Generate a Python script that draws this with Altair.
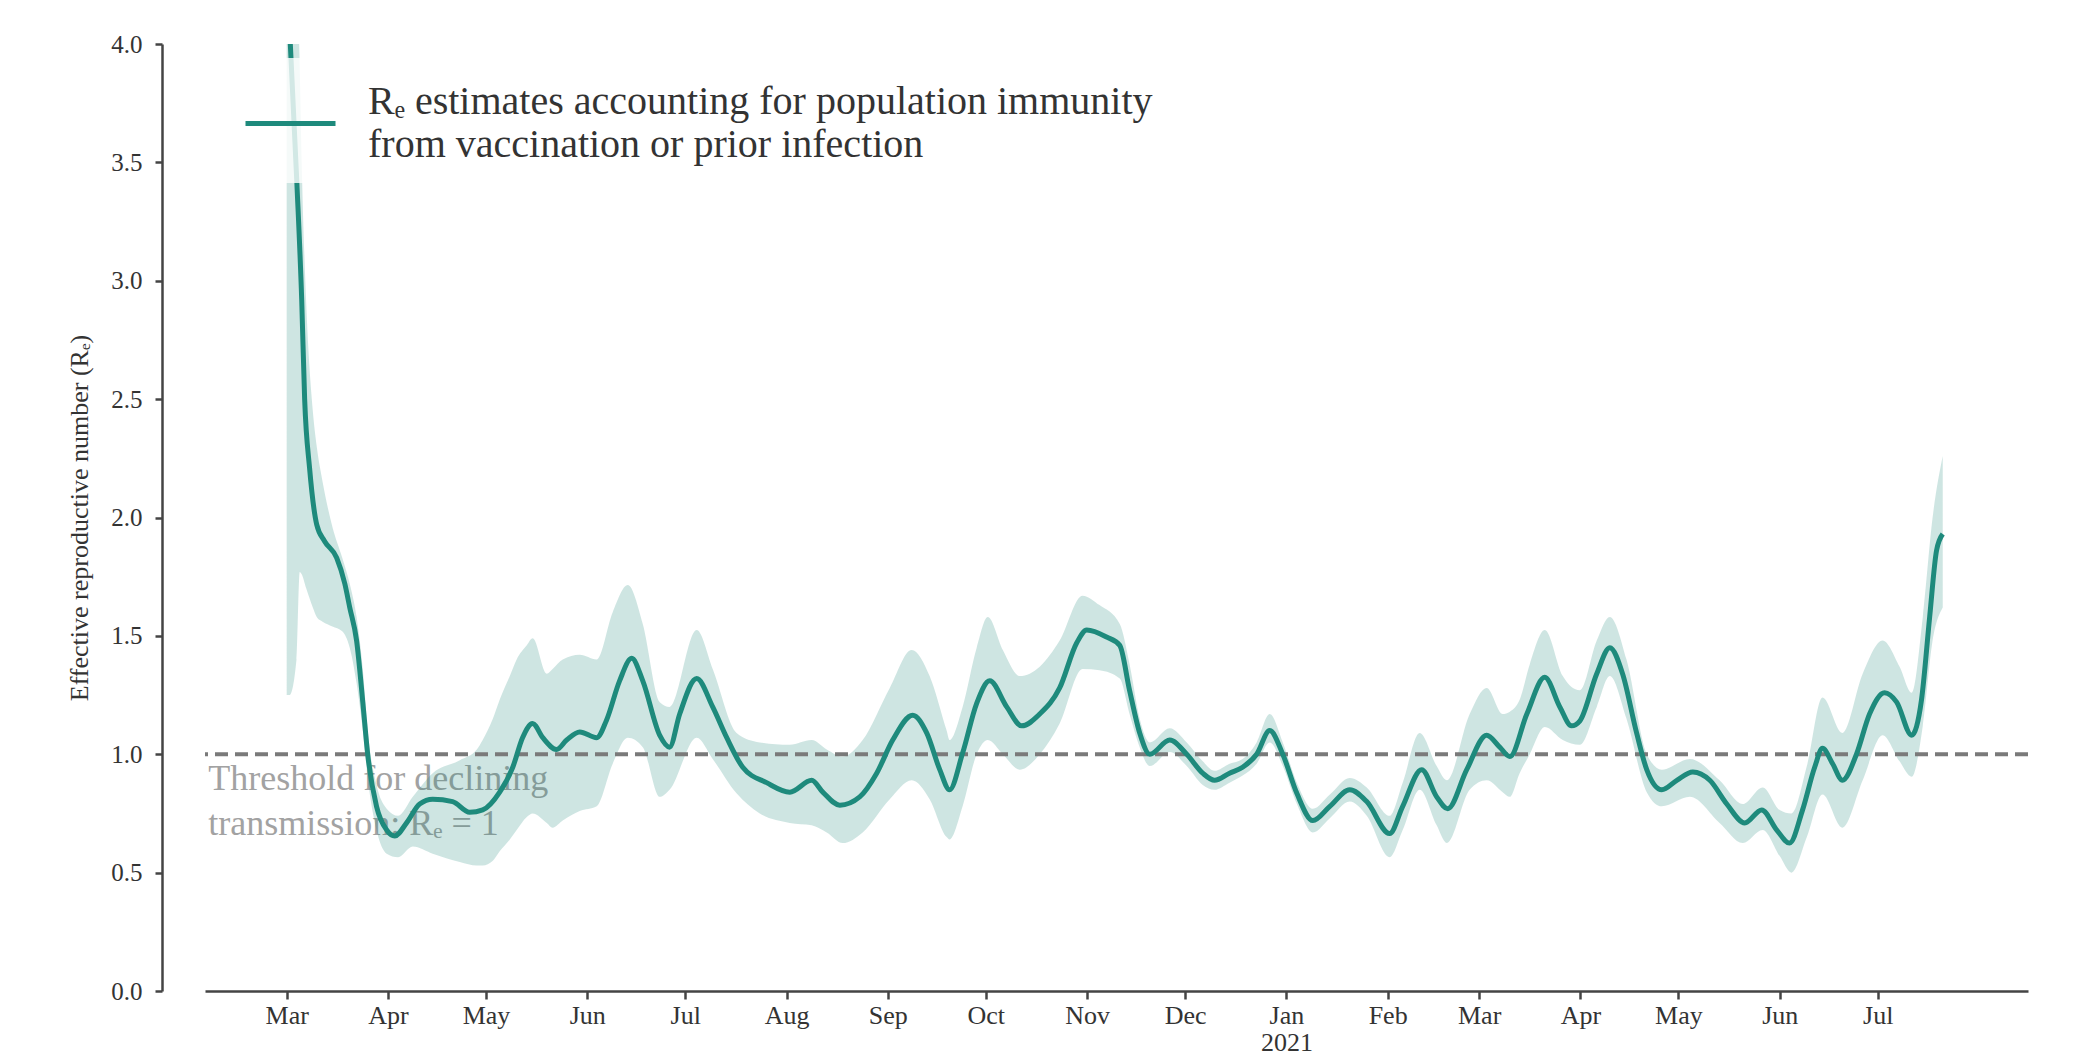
import altair as alt
import pandas as pd

START = "2020-03-01"
TEAL = "#1e8a7c"
FONT = "Liberation Serif"
LEGEND_LABEL = "Rₑ estimates accounting for population immunity|from vaccination or prior infection"
THRESHOLD_TEXT = "Threshold for declining\ntransmission: Rₑ = 1"

# central estimate (days after 2020-03-01, Re)
line_day = [0.6, 3.1, 4.6, 5.5, 7.0, 9.2, 11.6, 15.3, 17.8, 19.3,
            21.4, 23.3, 24.8, 27.5, 30.6, 33.1, 36.7, 40.7, 44.7, 50.8,
            56.0, 60.0, 65.2, 69.2, 72.2, 75.3, 78.4, 82.6, 85.7, 89.7,
            94.9, 97.9, 101.9, 105.6, 109.0, 114.2, 117.2, 120.3, 125.5, 130.4,
            134.7, 139.6, 146.9, 154.0, 160.7, 164.1, 169.3, 175.4, 180.6, 185.5,
            191.6, 195.9, 199.9, 202.9, 206.9, 211.2, 215.2, 220.4, 225.0, 230.5,
            236.6, 241.8, 244.9, 251.0, 255.0, 258.0, 261.1, 264.2, 270.3, 275.5,
            280.4, 284.0, 288.6, 292.6, 296.9, 300.9, 304.9, 309.2, 314.1, 319.3,
            325.4, 330.6, 337.6, 341.6, 347.4, 352.0, 355.4, 361.2, 367.3, 371.3,
            374.4, 379.6, 385.1, 389.7, 393.3, 395.8, 401.0, 405.0, 408.9, 413.2,
            416.3, 420.9, 425.5, 430.4, 435.6, 440.8, 446.3, 451.5, 456.1, 460.0,
            464.0, 467.7, 470.1, 473.2, 476.2, 480.5, 484.5, 489.1, 492.8, 497.4,
            500.4, 502.9, 505.0, 506.9]
line_r = [4.15, 3.42, 2.92, 2.50, 2.21, 1.97, 1.90, 1.83, 1.72, 1.62,
          1.48, 1.22, 1.0, 0.78, 0.68, 0.655, 0.71, 0.79, 0.81, 0.80,
          0.755, 0.765, 0.84, 0.945, 1.07, 1.13, 1.07, 1.02, 1.06, 1.094,
          1.07, 1.144, 1.31, 1.405, 1.31, 1.08, 1.03, 1.17, 1.32, 1.20,
          1.07, 0.945, 0.88, 0.84, 0.89, 0.84, 0.785, 0.82, 0.92, 1.06,
          1.165, 1.09, 0.935, 0.85, 1.005, 1.215, 1.31, 1.20, 1.12, 1.17,
          1.28, 1.47, 1.525, 1.495, 1.46, 1.27, 1.09, 1.0, 1.06, 1.0,
          0.92, 0.89, 0.92, 0.945, 1.0, 1.10, 1.0, 0.835, 0.72, 0.78,
          0.85, 0.80, 0.665, 0.78, 0.935, 0.82, 0.77, 0.935, 1.08, 1.03,
          0.99, 1.17, 1.325, 1.20, 1.12, 1.14, 1.34, 1.45, 1.34, 1.09,
          0.935, 0.85, 0.89, 0.925, 0.89, 0.79, 0.71, 0.765, 0.68, 0.625,
          0.765, 0.945, 1.025, 0.96, 0.89, 1.0, 1.17, 1.26, 1.22, 1.08,
          1.23, 1.58, 1.86, 1.93]

# credible interval (days after 2020-03-01, lower, upper)
band_day = [0.0, 0.9, 3.0, 4.0, 4.6, 6.0, 8.0, 9.2, 11.0, 14.0,
            17.0, 19.3, 21.4, 23.3, 24.8, 27.5, 30.6, 34.1, 38.6, 44.7,
            53.0, 58.2, 60.0, 63.1, 65.2, 68.3, 70.4, 73.5, 75.3, 79.6,
            81.4, 84.5, 89.7, 94.9, 99.8, 104.4, 109.0, 114.2, 117.2, 125.5,
            130.4, 137.7, 144.8, 154.0, 160.7, 165.3, 170.2, 176.3, 184.6, 191.3,
            196.8, 202.0, 202.9, 206.9, 211.2, 214.6, 219.2, 224.4, 230.5, 236.6,
            243.6, 248.8, 255.0, 258.0, 261.1, 264.2, 270.3, 275.5, 280.4, 284.0,
            288.6, 292.6, 296.9, 300.9, 304.9, 309.2, 314.1, 319.3, 325.4, 330.6,
            337.6, 341.6, 346.8, 352.0, 355.1, 362.1, 367.3, 372.2, 374.4, 377.4,
            380.5, 385.1, 390.6, 395.8, 401.0, 405.0, 410.1, 416.3, 420.9, 429.5,
            438.6, 445.7, 451.8, 457.0, 460.6, 465.3, 470.1, 476.2, 482.4, 488.5,
            493.7, 497.4, 500.8, 503.8, 506.9]
band_lo = [1.25, 1.25, 1.40, 1.77, 1.76, 1.70, 1.62, 1.58, 1.56, 1.54,
           1.52, 1.45, 1.30, 1.10, 0.90, 0.68, 0.58, 0.565, 0.61, 0.58,
           0.545, 0.53, 0.53, 0.55, 0.59, 0.64, 0.68, 0.735, 0.75, 0.71,
           0.69, 0.72, 0.76, 0.78, 0.96, 1.07, 1.03, 0.82, 0.85, 1.07,
           0.98, 0.835, 0.75, 0.71, 0.70, 0.67, 0.625, 0.67, 0.81, 0.89,
           0.81, 0.65, 0.64, 0.78, 1.0, 1.06, 1.0, 0.935, 1.0, 1.13,
           1.36, 1.355, 1.32, 1.17, 1.03, 0.95, 1.01, 0.95, 0.87, 0.85,
           0.88, 0.91, 0.96, 1.05, 0.95, 0.79, 0.67, 0.73, 0.80, 0.74,
           0.565, 0.68, 0.85, 0.70, 0.625, 0.85, 0.89, 0.84, 0.82, 0.92,
           1.0, 1.115, 1.06, 1.04, 1.2, 1.33, 1.15, 0.84, 0.78, 0.82,
           0.71, 0.625, 0.68, 0.57, 0.50, 0.65, 0.83, 0.69, 0.89, 1.08,
           0.97, 0.905, 1.12, 1.48, 1.62]
band_hi = [4.6, 4.5, 4.3, 3.9, 3.5, 2.9, 2.45, 2.3, 2.15, 1.96,
           1.83, 1.72, 1.58, 1.36, 1.10, 0.87, 0.77, 0.74, 0.82, 0.92,
           0.975, 1.02, 1.06, 1.15, 1.23, 1.33, 1.40, 1.46, 1.49, 1.34,
           1.36, 1.40, 1.42, 1.40, 1.60, 1.715, 1.55, 1.22, 1.20, 1.525,
           1.36, 1.09, 1.05, 1.04, 1.06, 1.02, 0.99, 1.06, 1.28, 1.44,
           1.33, 1.10, 1.06, 1.20, 1.45, 1.58, 1.44, 1.33, 1.37, 1.48,
           1.67, 1.63, 1.55, 1.38, 1.15, 1.05, 1.11, 1.05, 0.97, 0.93,
           0.96, 0.98, 1.05, 1.17, 1.05, 0.88, 0.77, 0.83, 0.90, 0.86,
           0.74, 0.88, 1.09, 0.95, 0.89, 1.17, 1.28, 1.17, 1.18, 1.23,
           1.38, 1.525, 1.33, 1.27, 1.48, 1.58, 1.40, 1.0, 0.935, 0.98,
           0.89, 0.79, 0.86, 0.765, 0.75, 0.95, 1.24, 1.09, 1.34, 1.48,
           1.37, 1.26, 1.58, 2.0, 2.26]

month_ticks = [(2020, m) for m in range(3, 13)] + [(2021, m) for m in range(1, 8)]
y_ticks = [0.0, 0.5, 1.0, 1.5, 2.0, 2.5, 3.0, 3.5, 4.0]
threshold_value = 1.0

base = pd.Timestamp(START)
line_df = pd.DataFrame({
    "date": [base + pd.Timedelta(days=d) for d in line_day],
    "r": line_r,
    "series": LEGEND_LABEL,
})
band_df = pd.DataFrame({
    "date": [base + pd.Timedelta(days=d) for d in band_day],
    "lo": band_lo,
    "hi": band_hi,
})
text_df = pd.DataFrame({"date": [pd.Timestamp("2020-02-06")], "y": [0.85], "t": [THRESHOLD_TEXT]})

x_scale = alt.Scale(domain=[alt.DateTime(year=2020, month=2, date=5),
                            alt.DateTime(year=2021, month=8, date=16)])
y_scale = alt.Scale(domain=[0, 4], nice=False)

x_axis = alt.Axis(
    values=[alt.DateTime(year=y, month=m, date=1) for y, m in month_ticks],
    labelExpr="month(datum.value) == 0 ? [timeFormat(datum.value, '%b'), timeFormat(datum.value, '%Y')] : timeFormat(datum.value, '%b')",
    labelLineHeight=27, tickSize=8, tickWidth=2.5, tickColor="#444",
    domainColor="#444", domainWidth=2.5, labelFont=FONT, labelFontSize=26,
    labelColor="#333", labelPadding=3, title=None, grid=False,
)
y_axis = alt.Axis(
    values=y_ticks, format=".1f", offset=43, tickSize=7, tickWidth=2.5,
    tickColor="#444", domainColor="#444", domainWidth=2.5, labelFont=FONT,
    labelFontSize=25, labelColor="#333", labelPadding=13,
    title="Effective reproductive number (Rₑ)", titleFont=FONT, titleFontSize=26,
    titleFontWeight="normal", titleColor="#333", titlePadding=18, grid=False,
)

text_layer = alt.Chart(text_df).mark_text(
    align="left", baseline="alphabetic", lineBreak="\n", font=FONT,
    fontSize=36, lineHeight=45, color="#a2a2a2",
).encode(x=alt.X("date:T", scale=x_scale, axis=x_axis), y=alt.Y("y:Q", scale=y_scale, axis=y_axis), text="t:N")

band = alt.Chart(band_df).mark_area(
    clip=True, color=TEAL, opacity=0.22, interpolate="monotone"
).encode(x="date:T", y="lo:Q", y2="hi:Q")

rule = alt.Chart(pd.DataFrame({"v": [threshold_value]})).mark_rule(
    color="#7a7a7a", strokeWidth=4, strokeDash=[13, 7]
).encode(y="v:Q")

line = alt.Chart(line_df).mark_line(
    clip=True, strokeWidth=5, interpolate="monotone"
).encode(
    x="date:T",
    y="r:Q",
    color=alt.Color("series:N", scale=alt.Scale(domain=[LEGEND_LABEL], range=[TEAL]),
                    legend=alt.Legend(
                        title=None, orient="none", legendX=20, legendY=14,
                        symbolType="stroke", symbolSize=8100, symbolStrokeWidth=5,
                        labelFont=FONT, labelFontSize=40, labelColor="#333",
                        labelLimit=3000, labelOffset=30,
                        labelExpr="split(datum.label, '|')",
                        labelBaseline="line-bottom",
                        fillColor="rgba(255,255,255,0.8)", padding=18,
                    )),
)

chart = alt.layer(text_layer, band, rule, line).properties(
    width=1823, height=947,
    autosize=alt.AutoSizeParams(type="none"),
    padding={"left": 197, "top": 36, "right": 40, "bottom": 66},
).configure(
    style={"guide-label": {"lineHeight": 43}},
    view=alt.ViewConfig(stroke=None),
)

chart.save("out.html", embed_options={"renderer": "svg", "actions": False})
